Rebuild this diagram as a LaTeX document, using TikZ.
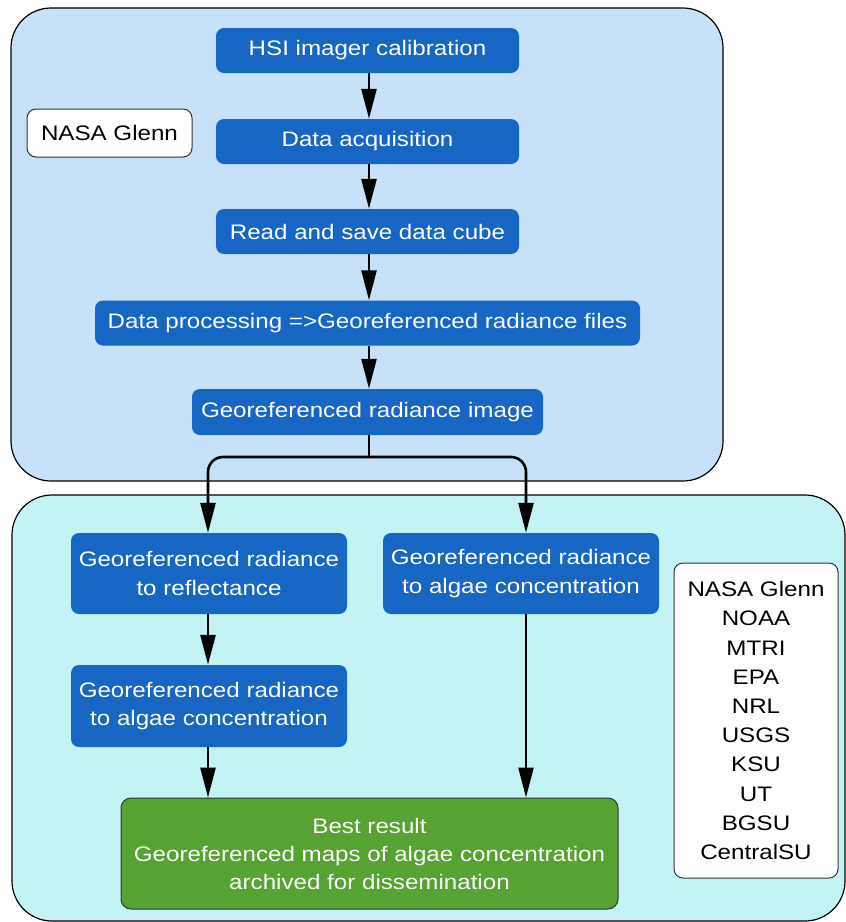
\documentclass[tikz,border=0pt]{standalone}
\usepackage{fontspec}
\setmainfont[FakeStretch=1.15]{Liberation Sans}
\usetikzlibrary{arrows.meta}
\definecolor{panelA}{RGB}{199,225,248}
\definecolor{panelB}{RGB}{196,243,246}
\definecolor{boxblue}{RGB}{24,102,196}
\definecolor{boxgreen}{RGB}{86,162,51}
\tikzset{
  panel/.style={draw=black, line width=1.2pt, rounded corners=40pt},
  stepbox/.style={fill=boxblue, text=white, rounded corners=8pt, inner sep=0pt,
    align=center, font=\fontsize{21}{28.5}\selectfont},
  greenbox/.style={fill=boxgreen, draw=black!80, line width=1pt, text=white, rounded corners=10pt,
    inner sep=0pt, align=center, font=\fontsize{21}{28}\selectfont},
  labelbox/.style={fill=white, draw=black!80, line width=1pt, rounded corners=9pt, inner sep=0pt,
    align=center, font=\fontsize{21}{29.2}\selectfont},
  arr/.style={line width=2.6pt, -{Triangle[length=30pt,width=15pt]}},
  conn/.style={line width=2.6pt}
}
\begin{document}
\begin{tikzpicture}[x=1pt,y=-1pt]
\useasboundingbox (0,0) rectangle (846,922);
% panels
\draw[panel, fill=panelA] (11,8) rectangle (723,481);
\draw[panel, fill=panelB] (12,495) rectangle (845,921);
% top chain
\node[stepbox, minimum width=303pt, minimum height=45pt] (hsi) at (367.5,50.5) {HSI imager calibration};
\node[stepbox, minimum width=303pt, minimum height=45pt] (acq) at (367.5,141.5) {Data acquisition};
\node[stepbox, minimum width=303pt, minimum height=45pt] (read) at (367.5,231.5) {Read and save data cube};
\node[stepbox, minimum width=545pt, minimum height=45pt] (proc) at (367.5,323) {Data processing =>Georeferenced radiance files};
\node[stepbox, minimum width=351pt, minimum height=46pt] (img) at (367.5,412) {Georeferenced radiance image};
\node[labelbox, minimum width=165pt, minimum height=48pt] (nasa) at (109.5,133) {NASA Glenn};
% bottom
\node[stepbox, minimum width=276pt, minimum height=81pt] (left1) at (209,573.5) {Georeferenced radiance\\to reflectance};
\node[stepbox, minimum width=276pt, minimum height=81pt] (right1) at (521,573.5) {Georeferenced radiance\\to algae concentration};
\node[stepbox, minimum width=276pt, minimum height=82pt] (left2) at (209,706) {Georeferenced radiance\\to algae concentration};
\node[greenbox, minimum width=497pt, minimum height=111pt] (best) at (369.5,853.5) {Best result\\Georeferenced maps of algae concentration\\archived for dissemination};
\node[labelbox, minimum width=164pt, minimum height=315pt] (list) at (756,720.5) {NASA Glenn\\NOAA\\MTRI\\EPA\\NRL\\USGS\\KSU\\UT\\BGSU\\CentralSU};
% connectors
\draw[arr] ([xshift=1.5pt]hsi.south) -- ([xshift=1.5pt]acq.north);
\draw[arr] ([xshift=1.5pt]acq.south) -- ([xshift=1.5pt]read.north);
\draw[arr] ([xshift=1.5pt]read.south) -- ([xshift=1.5pt]proc.north);
\draw[arr] ([xshift=1.5pt]proc.south) -- ([xshift=1.5pt]img.north);
\coordinate (junc) at (369,457);
\draw[conn] ([xshift=1.5pt]img.south) -- (junc);
\draw[arr, rounded corners=15pt] (junc) -| ([xshift=-1pt]left1.north);
\draw[arr, rounded corners=15pt] (junc) -| ([xshift=5pt]right1.north);
\draw[arr] ([xshift=-1pt]left1.south) -- ([xshift=-1pt]left2.north);
\draw[arr] ([xshift=-1pt]left2.south) -- ([xshift=-1pt]left2.south |- best.north);
\draw[arr] ([xshift=5pt]right1.south) -- ([xshift=5pt]right1.south |- best.north);
\end{tikzpicture}
\end{document}
